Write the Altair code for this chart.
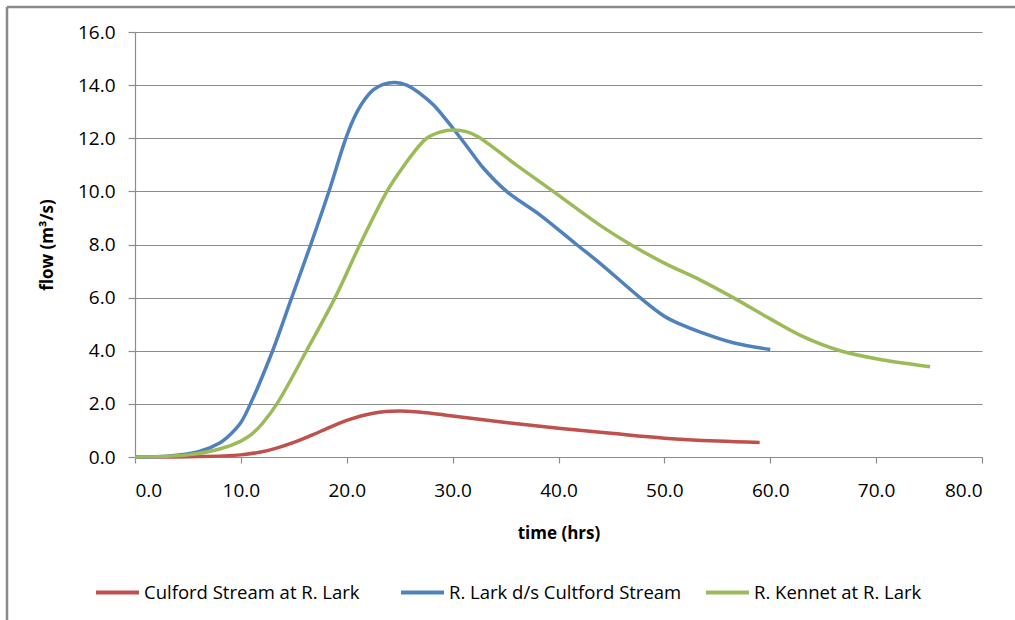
import altair as alt
import pandas as pd

# Flow hydrographs (time in hours, flow in m3/s)
culford_t = [0, 5, 10, 12.5, 15, 17.5, 20, 22.5, 25, 27.5, 30, 35, 40, 45, 50, 55, 59]
culford_q = [0, 0.01, 0.08, 0.24, 0.55, 0.96, 1.38, 1.65, 1.73, 1.67, 1.54, 1.30, 1.08, 0.89, 0.71, 0.60, 0.55]

lark_t = [0, 3, 6, 8, 9, 10, 10.9, 13, 14.8, 16.6, 18.4, 19.83, 20.6, 21.56, 22.5, 23.45, 24.56,
          25.66, 26.9, 28.2, 29.4, 30.4, 31.6, 32.9, 35.1, 38.3, 41.7, 43.9, 47.7, 50, 51.5,
          53.4, 56.5, 60]
lark_q = [0, 0.03, 0.2, 0.53, 0.85, 1.3, 2.0, 4.0, 6.0, 8.0, 10.1, 11.9, 12.69, 13.38, 13.82, 14.03, 14.1,
          14.0, 13.69, 13.25, 12.69, 12.19, 11.56, 10.88, 10.0, 9.1, 8.0, 7.3, 6.0, 5.3, 5.0,
          4.7, 4.3, 4.05]

kennet_t = [0, 5, 8, 10, 11, 12, 13.4, 16.2, 18.9, 21.25, 23.8, 25.2, 26.3, 27.55, 28.8, 30.07,
            31.3, 32.4, 36, 39.5, 43.9, 46.8, 50, 53.4, 56.5, 60, 63, 66.6, 70.7, 75.1]
kennet_q = [0, 0.08, 0.3, 0.6, 0.85, 1.25, 2.0, 4.0, 6.0, 8.0, 10.0, 10.85, 11.45, 12.0, 12.23, 12.31,
            12.25, 12.06, 11.0, 10.0, 8.73, 8.0, 7.3, 6.66, 6.0, 5.2, 4.55, 4.0, 3.65, 3.4]

series_names = ["Culford Stream at R. Lark", "R. Lark d/s Cultford Stream", "R. Kennet at R. Lark"]
series_colors = ["#C0504D", "#4F81BD", "#9BBB59"]

rows = []
for name, ts, qs in zip(series_names, [culford_t, lark_t, kennet_t], [culford_q, lark_q, kennet_q]):
    for t, q in zip(ts, qs):
        rows.append({"series": name, "time": t, "flow": q})
df = pd.DataFrame(rows)

FONT = "Open Sans"
GRAY = "#8c8c8c"

lines = alt.Chart(df).mark_line(interpolate="catmull-rom", strokeWidth=3.5).encode(
    x=alt.X("time:Q", scale=alt.Scale(domain=[0, 80], nice=False),
            axis=alt.Axis(title="time (hrs)", values=list(range(0, 81, 10)), format=".1f",
                          grid=False, tickSize=6, labelPadding=18,
                          titleY=76, titleBaseline="middle")),
    y=alt.Y("flow:Q", scale=alt.Scale(domain=[0, 16], nice=False),
            axis=alt.Axis(title="flow (m³/s)", values=list(range(0, 17, 2)), format=".1f",
                          grid=True, tickSize=7, labelPadding=13,
                          titleX=-88, titleY=212.5, titleAngle=270,
                          titleAlign="center", titleBaseline="middle")),
    color=alt.Color("series:N", scale=alt.Scale(domain=series_names, range=series_colors),
                    legend=alt.Legend(title=None, orient="none", legendX=-41, legendY=537,
                                      direction="horizontal", columns=3, gridAlign="all",
                                      columnPadding=16, symbolType="stroke", symbolSize=1849,
                                      symbolStrokeWidth=4, labelOffset=3, padding=0,
                                      labelLimit=400)),
)

# Chart-area frame along the top and left edges
frame_src = alt.Data(values=[{"k": 0}])
frame_left = alt.Chart(frame_src).mark_rule(color="#898989", strokeWidth=2.5).encode(
    x=alt.value(-128), y=alt.value(-25), y2=alt.value(600))
frame_top = alt.Chart(frame_src).mark_rule(color="#898989", strokeWidth=2.5).encode(
    x=alt.value(-128), x2=alt.value(900), y=alt.value(-25))

chart = alt.layer(frame_left, frame_top, lines).properties(
    width=847, height=425,
    autosize=alt.AutoSizeParams(type="none"),
    padding={"left": 135, "top": 32, "right": 33, "bottom": 163},
    background="white",
).configure_view(stroke=None).configure_axis(
    labelFont=FONT, labelFontSize=19, labelColor="#000000",
    titleFont=FONT, titleFontSize=17, titleFontWeight="bold", titleColor="#000000",
    domainColor=GRAY, tickColor=GRAY, gridColor=GRAY, gridWidth=1.2, domainWidth=1.2, tickWidth=1.2,
).configure_legend(
    labelFont=FONT, labelFontSize=18.5, labelColor="#000000",
)

chart.save("out.html", embed_options={"renderer": "svg", "actions": False})
